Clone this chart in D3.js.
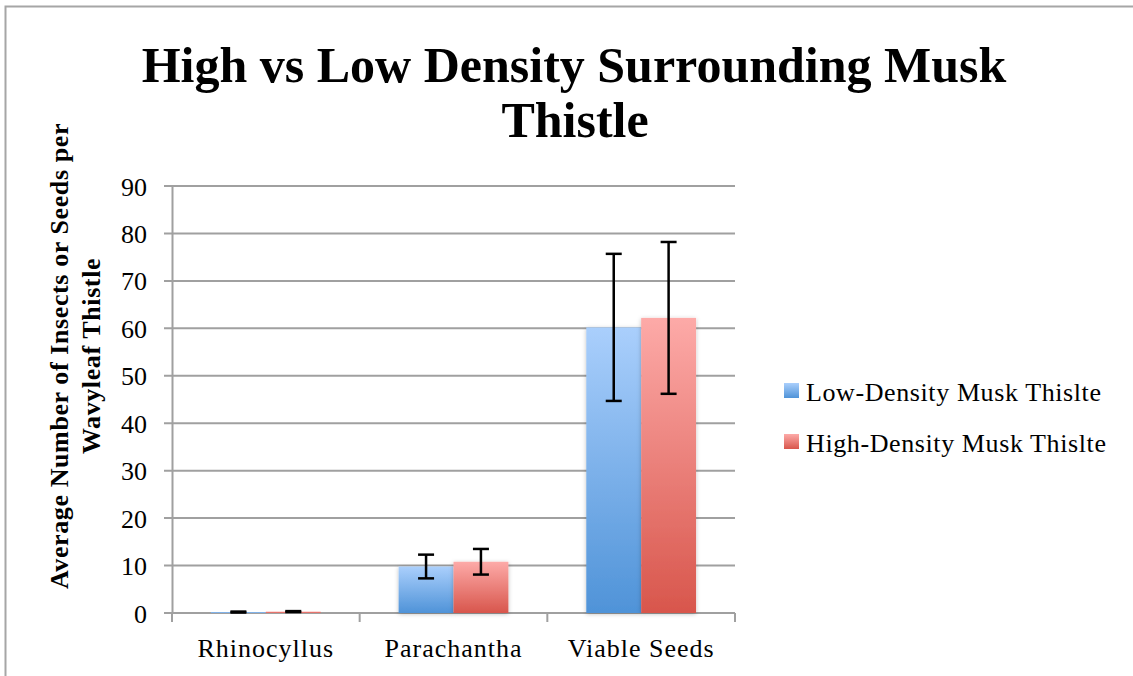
<!DOCTYPE html>
<html>
<head>
<meta charset="utf-8">
<script src="https://cdn.jsdelivr.net/npm/d3@7"></script>
<style>
  body { margin: 0; background: #fff; }
  svg text { font-family: "Liberation Serif", "DejaVu Serif", serif; }
</style>
</head>
<body>
<figure id="chart" style="margin:0"></figure>
<script>
// data
const categories = ["Rhinocyllus", "Parachantha", "Viable Seeds"];
const seriesNames = ["Low-Density Musk Thislte", "High-Density Musk Thislte"];
const lowValues = [0.2, 9.8, 60.2];
const highValues = [0.3, 10.8, 62.2];
const lowErrors = [0.1, 2.5, 15.5];
const highErrors = [0.1, 2.7, 16.0];
const yTicks = [0, 10, 20, 30, 40, 50, 60, 70, 80, 90];

const width = 1133, height = 676;
const plot = {left: 172, right: 735, top: 186, bottom: 613};

const svg = d3.select("figure#chart")
  .append("svg")
  .attr("width", width)
  .attr("height", height);

// gradients for bars
const defs = svg.append("defs");
const grads = [
  {id: "gLow", top: "#aacffc", bottom: "#4f93d8"},
  {id: "gHigh", top: "#fdaaa8", bottom: "#d8564c"}
];
grads.forEach(g => {
  const lg = defs.append("linearGradient")
    .attr("id", g.id).attr("x1", 0).attr("y1", 0).attr("x2", 0).attr("y2", 1);
  lg.append("stop").attr("offset", "0%").attr("stop-color", g.top);
  lg.append("stop").attr("offset", "100%").attr("stop-color", g.bottom);
});
const flt = defs.append("filter").attr("id", "shadow")
  .attr("x", "-20%").attr("y", "-20%").attr("width", "140%").attr("height", "140%");
flt.append("feDropShadow").attr("dx", 0).attr("dy", 1).attr("stdDeviation", 2)
  .attr("flood-color", "#000").attr("flood-opacity", 0.25);

// outer frame (left and top edges visible)
svg.append("path")
  .attr("d", "M5.5,676 V6.5 H1133")
  .attr("fill", "none")
  .attr("stroke", "#a6a6a6")
  .attr("stroke-width", 2);

// title
svg.append("text")
  .attr("x", 574).attr("y", 82)
  .attr("text-anchor", "middle")
  .style("font-size", "50px").style("font-weight", "bold")
  .text("High vs Low Density Surrounding Musk");
svg.append("text")
  .attr("x", 575).attr("y", 137)
  .attr("text-anchor", "middle")
  .style("font-size", "50px").style("font-weight", "bold")
  .text("Thistle");

// scales
const x = d3.scaleBand()
  .domain(categories)
  .range([plot.left, plot.right]);
const x1 = d3.scaleBand()
  .domain(seriesNames)
  .range([0, x.bandwidth()])
  .paddingInner(0)
  .paddingOuter(0.71);
const y = d3.scaleLinear()
  .domain([0, 90])
  .range([plot.bottom, plot.top]);

// gridlines
svg.append("g")
  .selectAll("line")
  .data(yTicks)
  .enter()
  .append("line")
  .attr("x1", plot.left - 8).attr("x2", plot.right)
  .attr("y1", d => y(d)).attr("y2", d => y(d))
  .attr("stroke", "#a0a0a0").attr("stroke-width", 2);

// y axis
const yAxis = svg.append("g")
  .attr("transform", "translate(" + plot.left + ",0)")
  .call(d3.axisLeft(y).tickValues(yTicks).tickSize(0).tickPadding(25));
yAxis.select(".domain").attr("stroke", "#a0a0a0").attr("stroke-width", 2);
yAxis.selectAll("text")
  .style("font-size", "26px")
  .attr("fill", "#000")
  .attr("dy", "0.35em");

// x axis
const xAxis = svg.append("g")
  .attr("transform", "translate(0," + plot.bottom + ")")
  .call(d3.axisBottom(x).tickSize(0));
xAxis.select(".domain").remove();
xAxis.selectAll("text")
  .style("font-size", "26px")
  .style("letter-spacing", "1px")
  .attr("fill", "#000")
  .attr("y", 44)
  .attr("dy", null);
// tick marks between categories
svg.append("g")
  .selectAll("line")
  .data(categories.concat(["end"]))
  .enter()
  .append("line")
  .attr("x1", (d, i) => plot.left + i * x.bandwidth())
  .attr("x2", (d, i) => plot.left + i * x.bandwidth())
  .attr("y1", plot.bottom).attr("y2", plot.bottom + 9)
  .attr("stroke", "#a0a0a0").attr("stroke-width", 2);
svg.append("line")
  .attr("x1", plot.left).attr("x2", plot.right)
  .attr("y1", plot.bottom).attr("y2", plot.bottom)
  .attr("stroke", "#a0a0a0").attr("stroke-width", 2);

// bars
const rows = categories.map((c, i) => ({
  cat: c,
  vals: [
    {s: seriesNames[0], v: lowValues[i], e: lowErrors[i], fill: "url(#gLow)"},
    {s: seriesNames[1], v: highValues[i], e: highErrors[i], fill: "url(#gHigh)"}
  ]
}));

const groups = svg.selectAll("g.cat")
  .data(rows)
  .enter()
  .append("g")
  .attr("class", "cat")
  .attr("transform", d => "translate(" + x(d.cat) + ",0)");

groups.selectAll("rect")
  .data(d => d.vals)
  .enter()
  .append("rect")
  .attr("x", d => x1(d.s))
  .attr("y", d => y(d.v))
  .attr("width", x1.bandwidth())
  .attr("height", d => y(0) - y(d.v))
  .attr("fill", d => d.fill)
  .attr("filter", d => d.v > 1 ? "url(#shadow)" : null);

// error bars
const err = groups.selectAll("g.err")
  .data(d => d.vals)
  .enter()
  .append("g")
  .attr("class", "err")
  .attr("stroke", "#000")
  .attr("stroke-width", 2.5);
const cx = d => x1(d.s) + x1.bandwidth() / 2;
err.append("line")
  .attr("x1", cx).attr("x2", cx)
  .attr("y1", d => y(d.v + d.e)).attr("y2", d => y(Math.max(0, d.v - d.e)));
err.append("line")
  .attr("x1", d => cx(d) - 8).attr("x2", d => cx(d) + 8)
  .attr("y1", d => y(d.v + d.e)).attr("y2", d => y(d.v + d.e));
err.append("line")
  .attr("x1", d => cx(d) - 8).attr("x2", d => cx(d) + 8)
  .attr("y1", d => y(Math.max(0, d.v - d.e))).attr("y2", d => y(Math.max(0, d.v - d.e)));

// y axis label
const yl = svg.append("text")
  .attr("transform", "translate(68,356) rotate(-90)")
  .attr("text-anchor", "middle")
  .style("font-size", "26px").style("font-weight", "bold")
  .style("letter-spacing", "0.6px");
yl.append("tspan").attr("x", 0).attr("dy", 0).text("Average Number of Insects or Seeds per");
yl.append("tspan").attr("x", 0).attr("dy", 32).text("Wavyleaf  Thistle");

// legend
const legend = svg.selectAll("g.legend")
  .data(seriesNames)
  .enter()
  .append("g")
  .attr("class", "legend")
  .attr("transform", (d, i) => "translate(784," + (401 + i * 51) + ")");
legend.append("rect")
  .attr("y", -18)
  .attr("width", 15).attr("height", 15)
  .attr("fill", (d, i) => i === 0 ? "url(#gLow)" : "url(#gHigh)");
legend.append("text")
  .attr("x", 22).attr("y", 0)
  .style("font-size", "26px")
  .style("letter-spacing", "0.6px")
  .text(d => d);
</script>
</body>
</html>
